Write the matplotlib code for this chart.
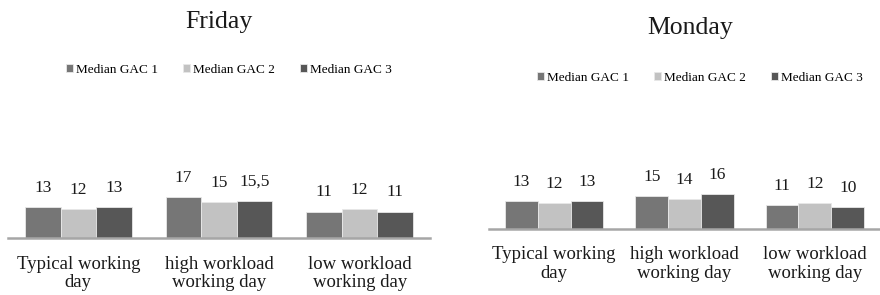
import numpy as np
import matplotlib
matplotlib.use('Agg')
import matplotlib.pyplot as plt

plt.rcParams['font.family'] = ['Liberation Serif', 'DejaVu Serif']

categories = ['Typical working\nday', 'high workload\nworking day', 'low workload\nworking day']
series_names = ['Median GAC 1', 'Median GAC 2', 'Median GAC 3']
colors = ['#767676', '#c2c2c2', '#575757']

friday_gac1 = [13, 17, 11]
friday_gac2 = [12, 15, 12]
friday_gac3 = [13, 15.5, 11]

monday_gac1 = [13, 15, 11]
monday_gac2 = [12, 14, 12]
monday_gac3 = [13, 16, 10]

W, H = 880, 295
fig = plt.figure(figsize=(8.8, 2.95), dpi=100)


def fmt(v):
    if v == int(v):
        return str(int(v))
    return str(v).replace('.', ',')


def draw(ax_box, title, data, ymax, title_xy, legend_y, legend_x, lab_space, lab_pad):
    # ax_box in pixels: left, right, baseline, top
    l, r, base, top = ax_box
    ax = fig.add_axes([l / W, 1 - base / H, (r - l) / W, (base - top) / H])
    x = np.arange(len(categories))
    w = 0.252
    for i, vals in enumerate(data):
        bars = ax.bar(x + (i - 1) * w, vals, w, color=colors[i], edgecolor='#e8e8e8',
                      linewidth=0.6, label=series_names[i], zorder=2)
        for b, v in zip(bars, vals):
            ax.annotate(fmt(v), (b.get_x() + b.get_width() / 2, v), xytext=(0, 8),
                        textcoords='offset points', ha='center', va='bottom', fontsize=12.5,
                        color='#1a1a1a')
    ax.set_xlim(-0.5, 2.5)
    ax.set_ylim(0, ymax)
    for s in ['top', 'left', 'right']:
        ax.spines[s].set_visible(False)
    ax.spines['bottom'].set_color('#a6a6a6')
    ax.spines['bottom'].set_linewidth(1.8)
    ax.set_yticks([])
    ax.set_xticks(x)
    ax.set_xticklabels(categories, fontsize=13.5, linespacing=lab_space, color='#1a1a1a')
    ax.tick_params(axis='x', length=0, pad=lab_pad)
    fig.text(title_xy[0] / W, 1 - title_xy[1] / H, title, ha='center', va='center',
             fontsize=18.5, color='#1a1a1a')
    ax.legend(loc='center left', bbox_to_anchor=(legend_x / W, 1 - legend_y / H),
              bbox_transform=fig.transFigure, ncol=3,
              frameon=False, fontsize=9.5, handlelength=0.55, handleheight=0.55,
              handletextpad=0.2, columnspacing=1.9, borderaxespad=0, borderpad=0)


draw((8, 430, 238, 100), 'Friday', [friday_gac1, friday_gac2, friday_gac3],
     138 / 2.4, (219, 22), 70, 66, 1.05, 13)
draw((489, 880, 229, 100), 'Monday', [monday_gac1, monday_gac2, monday_gac3],
     129 / 2.17, (690, 28), 78, 537, 1.2, 12)

fig.savefig('out.png', dpi=100)
